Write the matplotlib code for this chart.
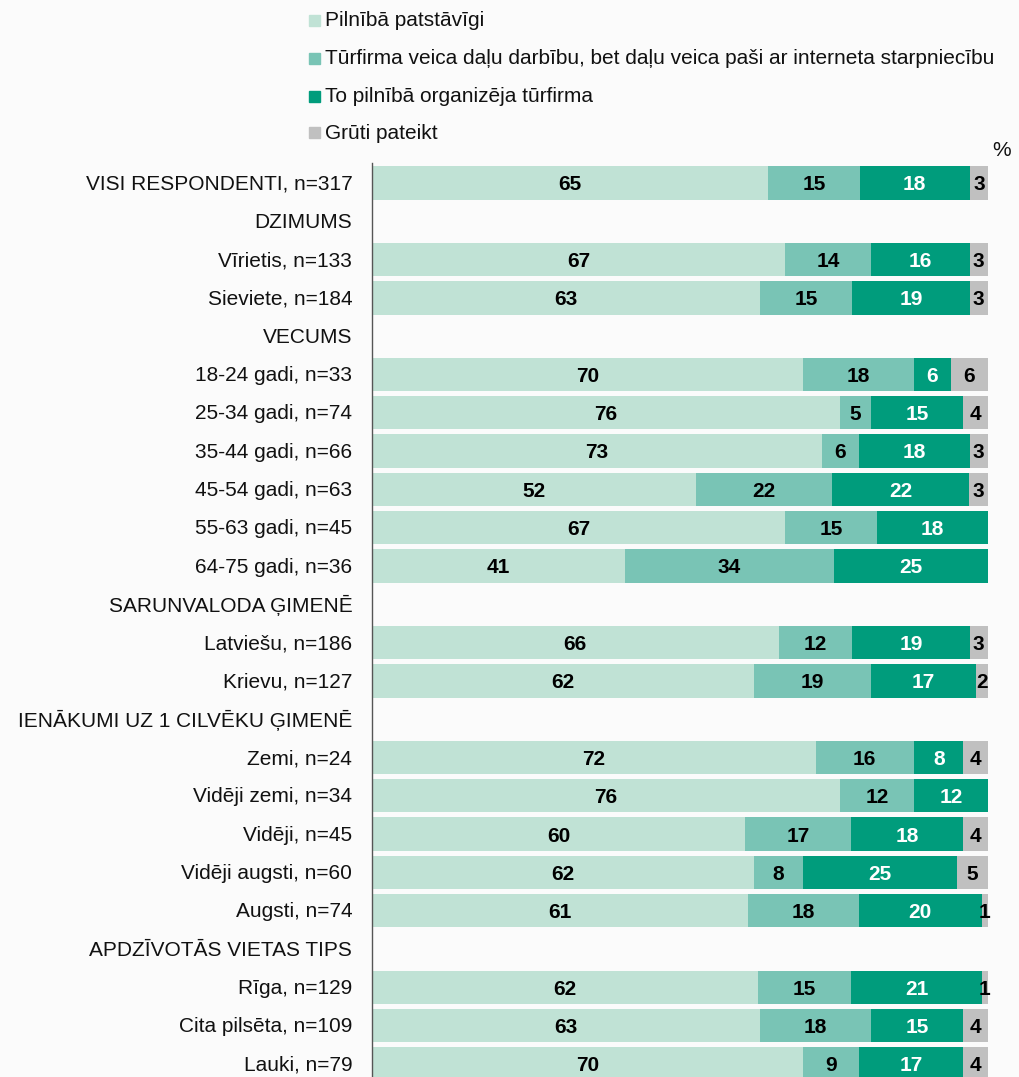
import matplotlib
matplotlib.use("Agg")
import matplotlib.pyplot as plt
import numpy as np

plt.rcParams['font.family'] = ['Liberation Sans', 'DejaVu Sans']

labels = ["VISI RESPONDENTI, n=317", "DZIMUMS", "Vīrietis, n=133", "Sieviete, n=184",
          "VECUMS", "18-24 gadi, n=33", "25-34 gadi, n=74", "35-44 gadi, n=66",
          "45-54 gadi, n=63", "55-63 gadi, n=45", "64-75 gadi, n=36",
          "SARUNVALODA ĢIMENĒ", "Latviešu, n=186", "Krievu, n=127",
          "IENĀKUMI UZ 1 CILVĒKU ĢIMENĒ", "Zemi, n=24", "Vidēji zemi, n=34", "Vidēji, n=45",
          "Vidēji augsti, n=60", "Augsti, n=74", "APDZĪVOTĀS VIETAS TIPS",
          "Rīga, n=129", "Cita pilsēta, n=109", "Lauki, n=79"]

series_names = ["Pilnībā patstāvīgi",
                "Tūrfirma veica daļu darbību, bet daļu veica paši ar interneta starpniecību",
                "To pilnībā organizēja tūrfirma",
                "Grūti pateikt"]

# None = header row (no bar)
patstavigi = [65, None, 67, 63, None, 70, 76, 73, 52, 67, 41, None, 66, 62, None, 72, 76, 60, 62, 61, None, 62, 63, 70]
dala       = [15, None, 14, 15, None, 18, 5, 6, 22, 15, 34, None, 12, 19, None, 16, 12, 17, 8, 18, None, 15, 18, 9]
turfirma   = [18, None, 16, 19, None, 6, 15, 18, 22, 18, 25, None, 19, 17, None, 8, 12, 18, 25, 20, None, 21, 15, 17]
gruti      = [3, None, 3, 3, None, 6, 4, 3, 3, 0, 0, None, 3, 2, None, 4, 0, 4, 5, 1, None, 1, 4, 4]

colors = ["#c0e2d5", "#79c4b5", "#009c7c", "#c0c0c0"]
text_colors = ["black", "black", "white", "black"]

W, H = 1019, 1077
fig = plt.figure(figsize=(W / 100, H / 100), dpi=100)
fig.patch.set_facecolor("#fbfbfb")

ax_left, ax_right, ax_top = 372 / W, 988 / W, 1 - 163 / H
ax = fig.add_axes([ax_left, 0, ax_right - ax_left, ax_top])
ax.set_facecolor("#fbfbfb")

n = len(labels)
ys = np.arange(n)
data = [patstavigi, dala, turfirma, gruti]

for i in range(n):
    if patstavigi[i] is None:
        continue
    vals = np.array([d[i] for d in data], dtype=float)
    total = vals.sum()
    left = 0.0
    for k, v in enumerate(vals):
        w = v / total * 100
        if v > 0:
            ax.barh(ys[i], w, left=left, height=0.87, color=colors[k], edgecolor='none')
            ax.text(left + w / 2, ys[i] + 0.05, f"{int(v)}", ha='center', va='center',
                    fontsize=15, fontweight='bold', color=text_colors[k])
        left += w

ax.set_xlim(0, 100)
ax.set_ylim(23.34, -0.52)
ax.set_xticks([])
ax.set_yticks([])
for s in ["top", "right", "bottom"]:
    ax.spines[s].set_visible(False)
ax.spines["left"].set_color("#555555")
ax.spines["left"].set_linewidth(1.0)

for i in range(n):
    ax.text(-3.2, ys[i] + 0.03, labels[i], ha='right', va='center', fontsize=15, color='#111111')

# legend
leg_x = 309 / W
leg_ys = [21, 59, 97, 133]
for k, name in enumerate(series_names):
    yc = 1 - leg_ys[k] / H
    fig.patches.append(plt.Rectangle((leg_x, yc - 5 / H), 11 / W, 11 / H,
                                     transform=fig.transFigure, color=colors[k]))
    fig.text(325 / W, yc, name, ha='left', va='center', fontsize=15, color='#111111')

fig.text(1002 / W, 1 - 150 / H, "%", ha='center', va='center', fontsize=15, color='#111111')

fig.savefig("out.png", dpi=100, facecolor=fig.get_facecolor())
